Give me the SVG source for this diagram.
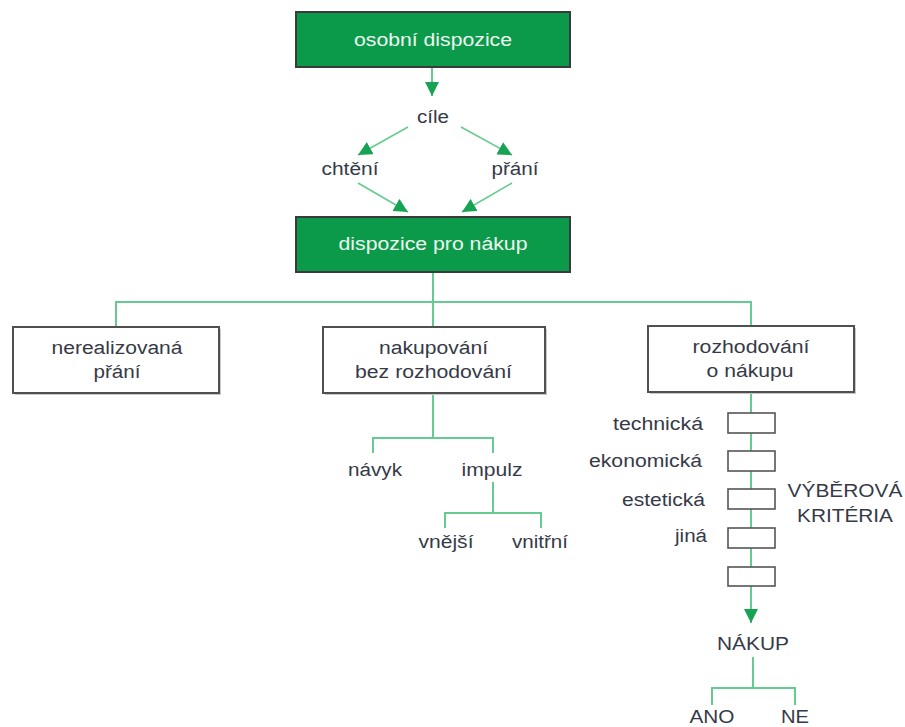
<svg xmlns="http://www.w3.org/2000/svg" width="905" height="727" viewBox="0 0 905 727">
<style>
text{font-family:"Liberation Sans",Arial,sans-serif;font-size:18px;fill:#363a48;text-anchor:middle}
.w{fill:#eef8f1}
.r{text-anchor:end}
.gbox{fill:#0b9a4a;stroke:#3a3a3a;stroke-width:2}
.box{fill:#fff;stroke:#505050;stroke-width:2}
.sh{fill:#c8c8c8}
.cb{fill:#fff;stroke:#555;stroke-width:1.6}
.c{fill:none;stroke:#66cb90;stroke-width:2}
.a{fill:none;stroke:#66cb90;stroke-width:1.6}
</style>
<defs>
<marker id="ah" markerUnits="userSpaceOnUse" markerWidth="16" markerHeight="14" viewBox="0 0 16 14" refX="14" refY="7" orient="auto">
<path d="M0,0 L14,7 L0,14 Z" fill="#17a354"/>
</marker>
</defs>
<g id="connectors">
<line class="c" x1="432" y1="67" x2="432" y2="96" marker-end="url(#ah)"/>
<line class="a" x1="408" y1="127" x2="358" y2="155" marker-end="url(#ah)"/>
<line class="a" x1="461" y1="127" x2="512" y2="155" marker-end="url(#ah)"/>
<line class="a" x1="358" y1="183" x2="408" y2="212" marker-end="url(#ah)"/>
<line class="a" x1="512" y1="183" x2="462" y2="212" marker-end="url(#ah)"/>
<path class="c" d="M433,272 V302 M116,327 V302 H751 V326 M433,302 V327"/>
<path class="c" d="M433,393 V438 M373,453 V438 H493 V453"/>
<path class="c" d="M493,482 V513 M445,528 V513 H541 V528"/>
<path class="c" d="M751,392 V413 M751,433 V451 M751,471 V489 M751,509 V528 M751,548 V567"/>
<line class="c" x1="751" y1="586" x2="751" y2="623" marker-end="url(#ah)"/>
<path class="c" d="M753,657 V688 M712,705 V688 H795 V705"/>
</g>
<g id="osobni-dispozice">
<rect class="gbox" x="296" y="12" width="274" height="55"/>
<text class="w" x="433" y="46" textLength="158" lengthAdjust="spacingAndGlyphs">osobní dispozice</text>
</g>
<g id="cile"><text x="433" y="123" textLength="32" lengthAdjust="spacingAndGlyphs">cíle</text></g>
<g id="chteni"><text x="350" y="175" textLength="57" lengthAdjust="spacingAndGlyphs">chtění</text></g>
<g id="prani"><text x="515" y="175" textLength="47" lengthAdjust="spacingAndGlyphs">přání</text></g>
<g id="dispozice-pro-nakup">
<rect class="gbox" x="296" y="217" width="274" height="55"/>
<text class="w" x="433" y="250" textLength="189" lengthAdjust="spacingAndGlyphs">dispozice pro nákup</text>
</g>
<g id="nerealizovana-prani">
<rect class="sh" x="15" y="329" width="206" height="66"/>
<rect class="box" x="13" y="327" width="206" height="66"/>
<text x="117" y="354" textLength="131" lengthAdjust="spacingAndGlyphs">nerealizovaná</text>
<text x="117" y="378" textLength="47" lengthAdjust="spacingAndGlyphs">přání</text>
</g>
<g id="nakupovani-bez-rozhodovani">
<rect class="sh" x="325" y="329" width="222" height="66"/>
<rect class="box" x="323" y="327" width="222" height="66"/>
<text x="433.5" y="354" textLength="109" lengthAdjust="spacingAndGlyphs">nakupování</text>
<text x="433.5" y="378" textLength="157" lengthAdjust="spacingAndGlyphs">bez rozhodování</text>
</g>
<g id="rozhodovani-o-nakupu">
<rect class="sh" x="650" y="328" width="206" height="66"/>
<rect class="box" x="648" y="326" width="206" height="66"/>
<text x="751" y="353" textLength="117" lengthAdjust="spacingAndGlyphs">rozhodování</text>
<text x="750" y="377" textLength="87" lengthAdjust="spacingAndGlyphs">o nákupu</text>
</g>
<g id="navyk"><text x="375" y="476" textLength="54" lengthAdjust="spacingAndGlyphs">návyk</text></g>
<g id="impulz"><text x="492" y="476" textLength="61" lengthAdjust="spacingAndGlyphs">impulz</text></g>
<g id="vnejsi"><text x="446" y="548" textLength="55" lengthAdjust="spacingAndGlyphs">vnější</text></g>
<g id="vnitrni"><text x="540" y="548" textLength="56" lengthAdjust="spacingAndGlyphs">vnitřní</text></g>
<g id="kriterium-technicka">
<rect class="cb" x="728" y="413" width="47" height="20"/>
<text class="r" x="703" y="430" textLength="90" lengthAdjust="spacingAndGlyphs">technická</text>
</g>
<g id="kriterium-ekonomicka">
<rect class="cb" x="728" y="451" width="47" height="20"/>
<text class="r" x="702" y="467" textLength="113" lengthAdjust="spacingAndGlyphs">ekonomická</text>
</g>
<g id="kriterium-esteticka">
<rect class="cb" x="728" y="489" width="47" height="20"/>
<text class="r" x="705" y="506" textLength="83" lengthAdjust="spacingAndGlyphs">estetická</text>
</g>
<g id="kriterium-jina">
<rect class="cb" x="728" y="528" width="47" height="20"/>
<text class="r" x="707" y="542" textLength="32" lengthAdjust="spacingAndGlyphs">jiná</text>
</g>
<g id="kriterium-prazdne">
<rect class="cb" x="728" y="567" width="47" height="19"/>
</g>
<g id="vyberova-kriteria">
<text x="845" y="497" textLength="115" lengthAdjust="spacingAndGlyphs">VÝBĚROVÁ</text>
<text x="845" y="522" textLength="96" lengthAdjust="spacingAndGlyphs">KRITÉRIA</text>
</g>
<g id="nakup"><text x="753" y="650" textLength="72" lengthAdjust="spacingAndGlyphs">NÁKUP</text></g>
<g id="ano"><text x="712" y="723" textLength="45" lengthAdjust="spacingAndGlyphs">ANO</text></g>
<g id="ne"><text x="795" y="723" textLength="28" lengthAdjust="spacingAndGlyphs">NE</text></g>
</svg>
